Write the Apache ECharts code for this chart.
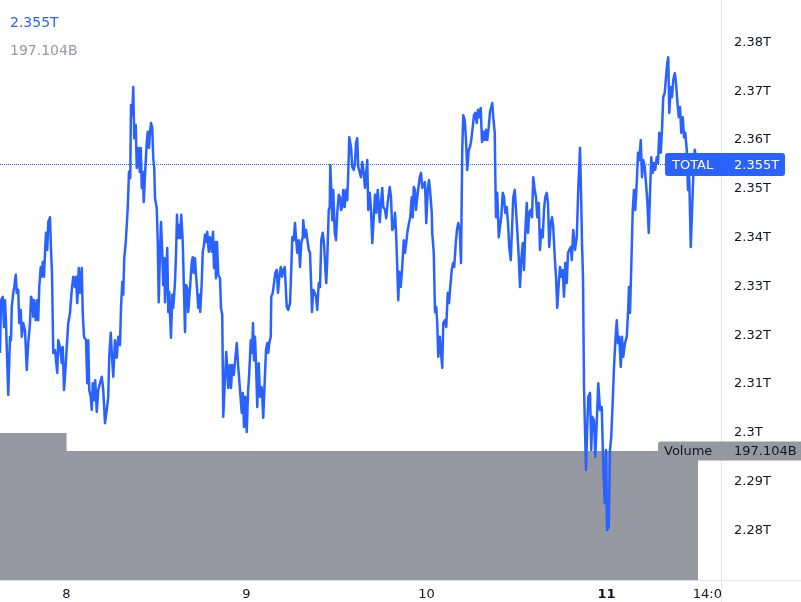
<!DOCTYPE html>
<html><head><meta charset="utf-8">
<script src="https://cdn.jsdelivr.net/npm/echarts@6/dist/echarts.min.js"></script>
<style>html,body{margin:0;padding:0;background:#fff}#c{width:801px;height:602px}</style>
</head><body><div id="c"></div>
<script>
// ---- data (minutes since day 8 00:00, values in billions USD) ----
const symbolName = 'TOTAL';
const volumeName = 'Volume';
const xTickMinutes = [0, 1440, 2880, 4320, 5160];
const xTickLabels = ['8', '9', '10', '11', '14:00'];
const yTickValues = [2280, 2290, 2300, 2310, 2320, 2330, 2340, 2350, 2360, 2370, 2380];

const totalMinutes = [
-532,-524,-510,-500,-492,-484,-466,-452,-444,-438,
-426,-418,-406,-398,-386,-378,-366,-358,-346,-332,
-318,-306,-292,-284,-274,-266,-258,-246,-234,-226,
-218,-206,-198,-190,-180,-172,-164,-154,-146,-132,
-124,-116,-106,-92,-84,-74,-66,-52,-38,-30,
-20,-10,2,14,28,42,54,68,76,86,
98,108,122,130,140,156,166,174,182,194,
202,210,220,230,242,254,268,282,294,308,
322,334,342,354,364,374,388,402,414,428,
436,446,454,462,474,484,490,500,510,516,
526,534,542,554,562,574,586,594,602,610,
618,628,642,650,660,668,676,686,694,702,
708,722,730,738,748,756,766,774,782,788,
796,806,814,822,828,836,846,854,868,876,
884,890,900,908,918,930,938,948,956,966,
974,988,1002,1010,1018,1028,1036,1044,1054,1062,
1070,1082,1090,1100,1108,1116,1126,1138,1148,1162,
1172,1180,1188,1196,1204,1214,1228,1236,1246,1254,
1268,1278,1286,1294,1306,1316,1326,1338,1348,1362,
1374,1388,1402,1410,1420,1430,1442,1452,1462,1474,
1484,1492,1500,1508,1516,1526,1538,1548,1562,1574,
1586,1596,1606,1614,1622,1634,1638,1650,1660,1670,
1682,1692,1702,1714,1724,1734,1746,1754,1762,1774,
1788,1798,1806,1818,1828,1836,1846,1858,1868,1878,
1890,1894,1906,1916,1930,1938,1948,1956,1964,1974,
1986,1996,2006,2018,2028,2038,2050,2060,2070,2078,
2086,2098,2106,2110,2118,2126,2134,2146,2156,2166,
2178,2188,2196,2206,2214,2226,2236,2246,2254,2262,
2276,2286,2298,2308,2316,2326,2334,2346,2356,2366,
2378,2388,2398,2406,2414,2426,2436,2446,2458,2468,
2478,2490,2498,2506,2516,2526,2534,2548,2558,2570,
2578,2586,2596,2606,2618,2628,2638,2646,2654,2662,
2674,2686,2698,2708,2718,2730,2740,2750,2762,2770,
2778,2788,2796,2806,2814,2826,2836,2846,2858,2868,
2878,2890,2900,2910,2922,2926,2938,2942,2948,2958,
2966,2974,2986,2996,3006,3014,3028,3038,3050,3060,
3068,3082,3092,3102,3114,3124,3134,3146,3156,3166,
3174,3186,3196,3206,3218,3228,3238,3250,3260,3270,
3282,3292,3302,3314,3324,3334,3346,3356,3366,3378,
3388,3398,3406,3414,3426,3430,3436,3446,3458,3468,
3478,3490,3500,3510,3522,3532,3542,3554,3564,3574,
3586,3596,3606,3618,3628,3638,3650,3660,3670,3682,
3692,3702,3714,3724,3734,3746,3756,3766,3778,3788,
3798,3810,3820,3830,3842,3852,3862,3874,3884,3894,
3906,3916,3926,3938,3948,3958,3970,3980,3990,4002,
4012,4022,4034,4042,4054,4068,4082,4094,4108,4116,
4124,4132,4140,4148,4156,4166,4174,4188,4198,4206,
4220,4230,4242,4254,4268,4282,4294,4306,4316,4324,
4338,4348,4358,4370,4380,4390,4402,4412,4422,4434,
4444,4454,4468,4482,4492,4500,4508,4518,4530,4540,
4550,4562,4572,4582,4594,4604,4614,4626,4636,4646,
4658,4668,4678,4690,4700,4710,4722,4732,4742,4754,
4764,4774,4786,4796,4806,4814,4822,4834,4844,4854,
4866,4876,4886,4898,4908,4918,4930,4940,4950,4962,
4972,4982,4994,5004,5014,5026,5036,5046
];

const totalValues = [
2316.4,2327.2,2327.9,2321.7,2327.2,2322.5,2307.8,2319.7,2319.0,2325.8,
2328.7,2329.9,2332.4,2328.7,2329.3,2322.5,2325.2,2319.7,2322.5,2321.1,
2312.9,2318.4,2322.5,2327.9,2327.2,2323.8,2327.2,2323.1,2327.2,2323.1,
2329.9,2334.0,2332.0,2335.0,2332.0,2336.9,2341.0,2337.5,2343.2,2344.2,
2337.5,2332.8,2316.4,2317.0,2314.9,2312.3,2319.0,2317.6,2314.3,2317.6,
2308.8,2312.5,2312.5,2322.5,2324.6,2329.3,2332.0,2329.9,2332.0,2326.6,
2333.8,2328.7,2333.8,2324.6,2319.7,2319.0,2310.2,2319.0,2308.8,2307.4,
2304.7,2310.2,2306.7,2310.8,2304.3,2308.8,2310.2,2311.5,2308.8,2302.0,
2304.7,2307.4,2315.6,2320.5,2315.6,2311.5,2319.0,2315.4,2319.7,2318.0,
2325.6,2330.9,2328.3,2335.8,2339.1,2339.1,2346.1,2353.5,2352.2,2367.2,
2365.1,2370.9,2360.4,2363.1,2354.3,2358.4,2353.5,2358.4,2350.2,2353.5,
2347.3,2352.8,2359.6,2361.7,2358.4,2361.7,2363.5,2362.5,2356.3,2354.3,
2348.1,2346.1,2339.1,2326.8,2337.1,2343.2,2337.1,2330.3,2335.8,2326.8,
2332.4,2337.9,2324.8,2328.9,2324.2,2319.5,2328.3,2325.6,2330.9,2336.5,
2344.7,2339.9,2342.6,2339.9,2344.7,2339.1,2330.9,2320.7,2330.3,2329.7,
2324.8,2329.7,2335.0,2336.0,2332.8,2335.8,2332.4,2329.7,2325.6,2328.3,
2324.8,2330.9,2337.1,2338.5,2340.6,2339.1,2341.2,2337.1,2340.1,2337.1,
2341.2,2333.8,2339.1,2331.7,2339.1,2332.4,2331.7,2325.6,2324.2,2303.3,
2303.3,2316.6,2316.6,2309.2,2313.9,2309.2,2313.9,2311.9,2314.5,2318.4,
2313.5,2313.5,2304.1,2308.2,2301.2,2307.4,2300.2,2308.2,2312.3,2319.0,
2316.4,2322.5,2314.9,2319.7,2314.3,2305.3,2314.3,2307.4,2309.4,2303.1,
2310.8,2317.0,2318.4,2316.4,2318.4,2319.7,2327.9,2328.7,2330.7,2332.8,
2333.4,2328.7,2332.0,2334.0,2332.0,2333.4,2334.0,2329.9,2325.8,2325.2,
2326.6,2333.4,2340.1,2339.5,2343.0,2340.1,2336.9,2339.5,2334.0,2338.9,
2340.1,2343.6,2340.1,2341.6,2341.6,2337.5,2336.9,2331.3,2324.8,2329.3,
2328.7,2327.9,2325.2,2330.7,2329.9,2339.5,2341.0,2338.9,2334.0,2330.7,
2335.4,2345.7,2346.3,2354.9,2349.8,2343.6,2349.8,2341.0,2339.5,2345.1,
2348.8,2348.3,2345.7,2346.3,2349.8,2346.3,2349.8,2347.7,2353.3,2360.6,
2358.6,2354.5,2353.9,2355.3,2359.4,2360.4,2354.5,2353.3,2352.4,2355.5,
2353.3,2350.2,2349.8,2355.9,2345.7,2349.2,2345.7,2338.9,2344.2,2348.8,
2345.1,2349.8,2349.8,2343.2,2347.1,2350.2,2346.3,2345.7,2344.0,2347.3,
2347.7,2350.4,2348.3,2341.6,2342.2,2345.1,2340.1,2334.0,2327.2,2333.0,
2329.9,2334.0,2339.5,2336.9,2336.5,2341.6,2343.0,2344.2,2348.3,2344.2,
2350.4,2349.8,2345.7,2348.3,2348.3,2352.4,2353.3,2350.2,2349.8,2351.4,
2343.0,2349.8,2351.8,2349.2,2345.1,2341.0,2336.9,2332.0,2324.8,2325.8,
2322.5,2315.6,2319.7,2319.7,2313.3,2322.5,2323.1,2321.7,2328.7,2326.6,
2329.3,2333.4,2334.8,2334.0,2338.9,2341.6,2343.0,2341.6,2334.8,2358.0,
2365.1,2364.1,2360.0,2353.9,2358.0,2358.6,2360.0,2362.7,2365.1,2365.6,
2363.5,2366.2,2364.7,2366.6,2359.6,2361.7,2360.0,2362.1,2360.0,2362.7,
2365.8,2365.6,2367.6,2364.7,2361.5,2353.3,2344.2,2349.2,2340.1,2342.2,
2344.2,2349.2,2348.3,2345.1,2346.3,2343.0,2338.1,2335.4,2341.6,2348.3,
2349.8,2345.7,2341.6,2336.0,2329.9,2335.4,2338.9,2333.4,2341.0,2347.1,
2341.0,2345.1,2345.7,2344.2,2352.4,2349.8,2348.3,2344.2,2347.1,2337.5,
2341.6,2340.1,2345.7,2348.3,2349.2,2347.1,2338.1,2343.0,2344.2,2342.2,
2336.0,2332.0,2325.6,2330.7,2334.0,2332.0,2333.4,2327.9,2334.8,2330.7,
2336.9,2337.5,2338.1,2335.4,2341.6,2337.5,2340.1,2349.8,2358.4,2349.8,
2338.9,2332.0,2309.4,2300.6,2292.4,2301.2,2307.4,2308.2,2296.5,2303.3,
2302.6,2295.1,2302.0,2310.2,2304.7,2305.3,2293.0,2285.6,2296.5,2280.1,
2280.7,2296.5,2299.2,2306.7,2313.5,2318.4,2323.1,2318.4,2319.7,2313.5,
2319.7,2315.6,2318.4,2319.7,2324.6,2329.9,2324.6,2334.0,2345.7,2349.8,
2345.7,2351.2,2357.4,2355.9,2360.0,2352.4,2355.9,2354.5,2351.2,2347.7,
2341.0,2349.2,2356.5,2353.3,2355.3,2353.9,2356.5,2355.3,2361.5,2357.4,
2362.1,2368.8,2369.7,2372.9,2375.8,2377.0,2365.6,2370.9,2368.8,2372.3,
2373.7,2371.7,2368.2,2364.7,2366.8,2361.5,2364.7,2360.6,2361.5,2358.0,
2349.8,2352.4,2338.1,2345.1,2352.4,2358.0,2356.5,2355.0
];

const volumeMinutes = [-1440, 0, 5052];
const volumeValues = [224.6, 197.104, 197.104];

// ---- chart ----
const FONT = '"DejaVu Sans", "Noto Sans", sans-serif';
const BLUE = '#2962ff';
const GREY = '#9598a1';
const TEXT = '#131722';
const LINE = '#e0e3eb';

const totalData = totalMinutes.map((m, i) => [m, totalValues[i]]);
const volumeData = volumeMinutes.map((m, i) => [m, volumeValues[i]]);
const lastTotal = totalValues[totalValues.length - 1];
const lastVolume = volumeValues[volumeValues.length - 1];
const fmtT = v => (v / 1000).toFixed(3) + 'T';
const fmtB = v => v.toFixed(3) + 'B';

const chart = echarts.init(document.getElementById('c'), null, {renderer: 'canvas'});
chart.setOption({
  animation: false,
  backgroundColor: '#ffffff',
  grid: {left: 0, top: 0, width: 721, height: 580, containLabel: false},
  xAxis: {
    type: 'value', min: -532, max: 5236,
    axisLine: {show: false}, axisTick: {show: false}, splitLine: {show: false},
    axisLabel: {
      customValues: xTickMinutes,
      margin: 8, color: TEXT, fontSize: 13, fontFamily: FONT,
      formatter: v => {
        const i = xTickMinutes.indexOf(v);
        const s = i >= 0 ? xTickLabels[i] : '';
        return v === 4320 ? '{b|' + s + '}' : s;
      },
      rich: {b: {fontWeight: 'bold', fontSize: 13, fontFamily: FONT, color: TEXT}}
    }
  },
  yAxis: [{
    type: 'value', position: 'right', min: 2269.86, max: 2388.71,
    axisLine: {show: false}, axisTick: {show: false}, splitLine: {show: false},
    axisLabel: {
      customValues: yTickValues,
      margin: 13, color: TEXT, fontSize: 13, fontFamily: FONT,
      padding: [4, 0, 0, 0],
      formatter: v => parseFloat((v / 1000).toFixed(3)) + 'T'
    }
  }, {
    type: 'value', min: 0, max: 886.2, show: false
  }],
  series: [{
    name: volumeName, type: 'line', yAxisIndex: 1, step: 'end',
    data: volumeData, symbol: 'none', z: 1,
    lineStyle: {width: 0, opacity: 0},
    areaStyle: {color: GREY, opacity: 1}
  }, {
    name: symbolName, type: 'line', yAxisIndex: 0,
    data: totalData, showSymbol: false, symbol: 'none', z: 3,
    lineStyle: {color: BLUE, width: 2.5, join: 'round'},
    markLine: {
      silent: true, symbol: ['none', 'none'], label: {show: false},
      lineStyle: {color: BLUE, type: 'dotted', width: 1},
      data: [{yAxis: lastTotal}]
    }
  }]
});

const yTot = chart.convertToPixel({yAxisIndex: 0}, lastTotal);
const yVol = chart.convertToPixel({yAxisIndex: 1}, lastVolume);

chart.setOption({
  graphic: [
    {type: 'rect', z: 100, shape: {x: 722, y: 581, width: 79, height: 21}, style: {fill: '#ffffff'}},
    {type: 'line', z: 101, shape: {x1: 721.5, y1: 0, x2: 721.5, y2: 602}, style: {stroke: LINE, lineWidth: 1}},
    {type: 'line', z: 101, shape: {x1: 0, y1: 580.5, x2: 801, y2: 580.5}, style: {stroke: LINE, lineWidth: 1}},
    {type: 'rect', z: 102, shape: {x: 665, y: yTot - 11.5, width: 120, height: 23, r: 3}, style: {fill: BLUE}},
    {type: 'text', z: 103, style: {text: symbolName, x: 672, y: yTot + 1, fill: '#ffffff', font: '13px ' + FONT, verticalAlign: 'middle'}},
    {type: 'text', z: 103, style: {text: fmtT(lastTotal), x: 734, y: yTot + 1, fill: '#ffffff', font: '13px ' + FONT, verticalAlign: 'middle'}},
    {type: 'rect', z: 102, shape: {x: 658, y: yVol - 9.5, width: 150, height: 19, r: [3, 0, 0, 3]}, style: {fill: GREY}},
    {type: 'text', z: 103, style: {text: volumeName, x: 664, y: yVol + 1, fill: TEXT, font: '13px ' + FONT, verticalAlign: 'middle'}},
    {type: 'text', z: 103, style: {text: fmtB(lastVolume), x: 734, y: yVol + 1, fill: TEXT, font: '13px ' + FONT, verticalAlign: 'middle'}},
    {type: 'text', z: 103, style: {text: fmtT(lastTotal), x: 10, y: 23, fill: BLUE, font: '14px ' + FONT, verticalAlign: 'middle'}},
    {type: 'text', z: 103, style: {text: fmtB(lastVolume), x: 10, y: 51, fill: GREY, font: '14px ' + FONT, verticalAlign: 'middle'}}
  ]
});
</script>
</body></html>
